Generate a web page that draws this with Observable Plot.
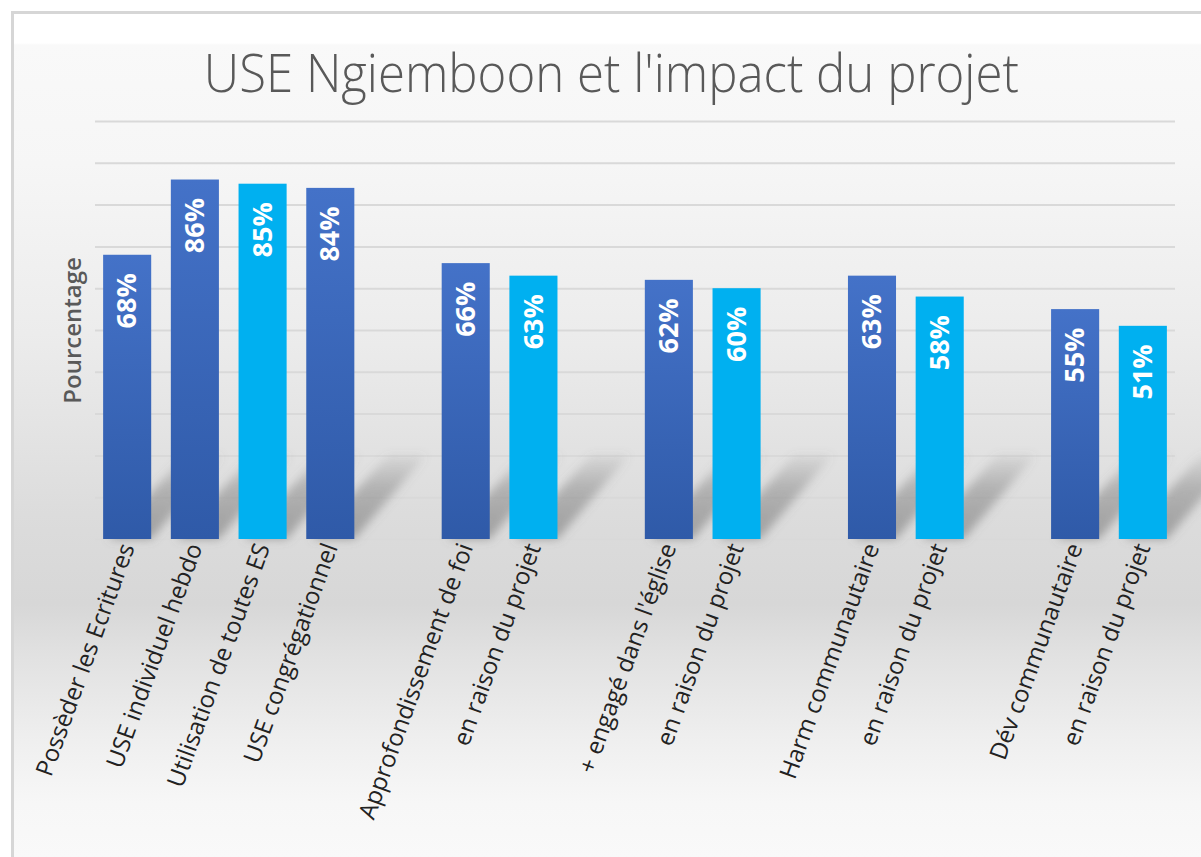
<!DOCTYPE html>
<html>
<head>
<meta charset="utf-8">
<script src="https://cdn.jsdelivr.net/npm/d3@7"></script>
<script src="https://cdn.jsdelivr.net/npm/@observablehq/plot@0.6"></script>
<style>
  html, body { margin: 0; padding: 0; background: #ffffff; }
  #page { position: relative; width: 1201px; height: 857px; overflow: hidden; }
  #frame {
    position: absolute; left: 11px; top: 11px; width: 1300px; height: 900px;
    border-left: 3px solid #d6d6d6; border-top: 3px solid #d6d6d6;
    background: linear-gradient(to bottom,
      #ffffff 0px, #ffffff 29px, #f9f9f9 31px, #f6f6f6 150px, #ececec 320px,
      #dcdcdc 500px, #d7d7d7 590px, #e1e1e1 640px, #eeeeee 720px, #f7f7f7 790px, #fbfbfb 900px);
  }
  #title {
    position: absolute; left: 10px; top: 44px; width: 1201px; text-align: center;
    font-family: "Open Sans", sans-serif; font-weight: 350; font-size: 54px; line-height: 54px; color: #595959;
    transform: scaleX(0.91); transform-origin: 610px 0;
  }
  #chart { position: absolute; left: 0; top: 0; }
</style>
</head>
<body>
<div id="page">
  <div id="frame"></div>
  <div id="title">USE Ngiemboon et l'impact du projet</div>
  <div id="chart"></div>
</div>
<script>
// ---- data ----
const categories = [
  "Possèder les Ecritures",
  "USE individuel hebdo",
  "Utilisation de toutes ES",
  "USE congrégationnel",
  "Approfondissement de foi",
  "en raison du projet",
  "+ engagé dans l'église",
  "en raison du projet",
  "Harm communautaire",
  "en raison du projet",
  "Dév communautaire",
  "en raison du projet"
];
const values = [68, 86, 85, 84, 66, 63, 62, 60, 63, 58, 55, 51];
const series = ["dark", "dark", "light", "dark", "dark", "light", "dark", "light", "dark", "light", "dark", "light"];
const groups = [0, 0, 0, 0, 1, 1, 2, 2, 3, 3, 4, 4];
const yTicks = [0, 10, 20, 30, 40, 50, 60, 70, 80, 90, 100];
const yLabel = "Pourcentage";

// ---- build table ----
const rows = categories.map((c, i) => ({key: "k" + i, label: c, value: values[i], series: series[i], group: groups[i]}));
const domain = [];
rows.forEach((r, i) => {
  if (i > 0 && r.group !== rows[i - 1].group) domain.push("gap" + r.group);
  domain.push(r.key);
});
const labelOf = new Map(rows.map(r => [r.key, r.label]));

// soft cast shadow behind each bar (decoration), positioned via the scales
function barShadows(data) {
  return (index, scales, values, dims, context) => {
    const g = d3.create("svg:g").attr("filter", "url(#shadowBlur)");
    const y0 = scales.y(0);
    const bwRaw = scales.x.bandwidth;
    const bw = typeof bwRaw === "function" ? bwRaw() : (bwRaw ?? (scales.scales && scales.scales.x && scales.scales.x.bandwidth) ?? 48);
    const sdx = 72, sdy = 84;
    for (const r of data) {
      const x0 = scales.x(r.key);
      g.append("path")
        .attr("d", `M${x0 + 6},${y0} L${x0 + bw},${y0} L${x0 + bw + sdx},${y0 - sdy} L${x0 + sdx + 10},${y0 - sdy} Z`)
        .attr("fill", "url(#shadowGrad)");
    }
    return g.node();
  };
}

const plot = Plot.plot({
  width: 1201,
  height: 857,
  marginLeft: 95,
  marginRight: 26,
  marginTop: 121,
  marginBottom: 318,
  style: {background: "transparent", fontFamily: "'Open Sans', sans-serif", fontSize: "24px", overflow: "visible"},
  x: {type: "band", domain, paddingInner: 0.29, paddingOuter: 0.12, round: false, axis: null},
  y: {domain: [0, 100], axis: null},
  color: {domain: ["dark", "light"], range: ["url(#darkGrad)", "#00b0f0"]},
  marks: [
    Plot.ruleY(yTicks, {stroke: "#d9d9d9", strokeWidth: 2}),
    barShadows(rows),
    Plot.barY(rows, {x: "key", y: "value", fill: "series"}),
    Plot.text(rows, {
      x: "key", y: "value", text: d => d.value + "%",
      rotate: -90, textAnchor: "end", dy: 18,
      fill: "white", fontWeight: "bold", fontSize: 27
    }),
    Plot.axisX({
      tickFormat: k => labelOf.get(k) ?? "",
      tickRotate: -70, tickSize: 0, tickPadding: 5,
      fill: "#222222", fontWeight: 500, label: null
    }),
    Plot.text([yLabel], {
      frameAnchor: "left", textAnchor: "middle", rotate: -90, dx: -22,
      text: d => d, fill: "#595959", fontWeight: 600, fontSize: 24
    })
  ]
});

// gradient / filter definitions
const svg = d3.select(plot);
const defs = svg.insert("defs", ":first-child");
const g = defs.append("linearGradient").attr("id", "darkGrad").attr("x1", 0).attr("y1", 0).attr("x2", 0).attr("y2", 1);
g.append("stop").attr("offset", "0%").attr("stop-color", "#4472c8");
g.append("stop").attr("offset", "100%").attr("stop-color", "#2f5aa8");
const sg = defs.append("linearGradient").attr("id", "shadowGrad").attr("x1", 0).attr("y1", 1).attr("x2", 0).attr("y2", 0);
sg.append("stop").attr("offset", "0%").attr("stop-color", "#6e6e6e").attr("stop-opacity", 0.55);
sg.append("stop").attr("offset", "60%").attr("stop-color", "#6e6e6e").attr("stop-opacity", 0.4);
sg.append("stop").attr("offset", "100%").attr("stop-color", "#6e6e6e").attr("stop-opacity", 0.08);
defs.append("filter").attr("id", "shadowBlur").attr("x", "-20%").attr("y", "-20%").attr("width", "140%").attr("height", "140%")
  .append("feGaussianBlur").attr("stdDeviation", 5);

document.getElementById("chart").appendChild(plot);
</script>
</body>
</html>
